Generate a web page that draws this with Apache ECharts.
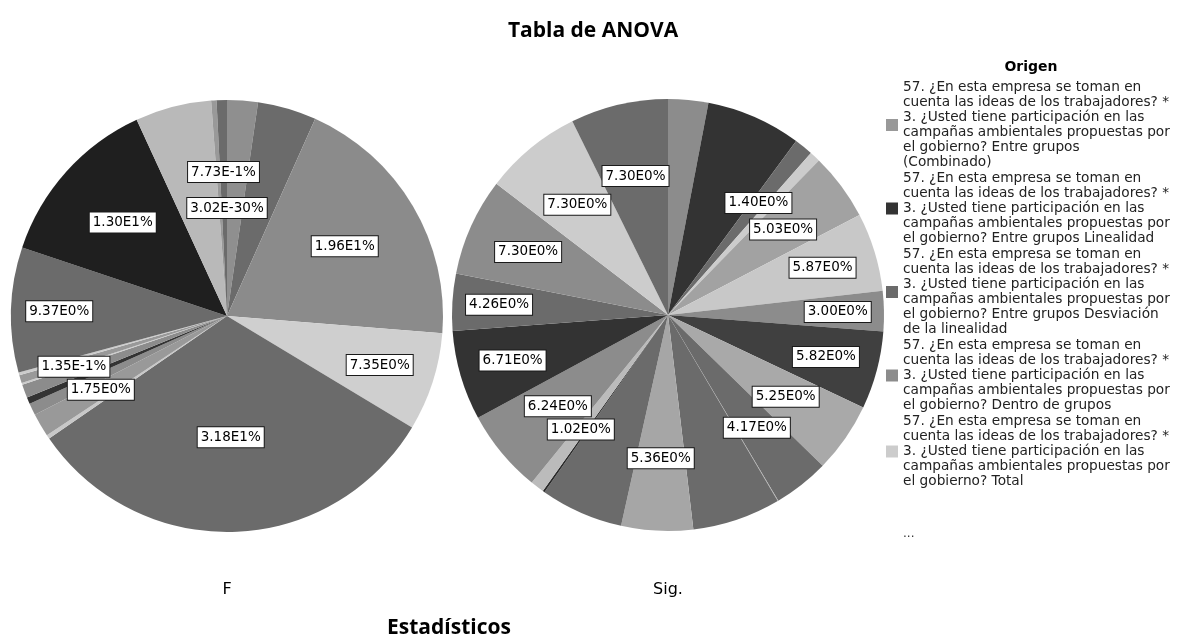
<!DOCTYPE html>
<html>
<head>
<meta charset="utf-8">
<script src="https://cdn.jsdelivr.net/npm/echarts@6/dist/echarts.min.js"></script>
<style>
html,body{margin:0;padding:0;background:#ffffff;}
#chart{width:1185px;height:637px;}
</style>
</head>
<body>
<div id="chart"></div>
<script>
// ---------- texts ----------
const chartTitle = 'Tabla de ANOVA';
const pieNames = ['F', 'Sig.'];
const footerTitle = 'Estadísticos';
const legendTitle = 'Origen';
const legendMore = '...';

// ---------- legend (Origen categories) ----------
const legendNames = [
  '57. ¿En esta empresa se toman en\ncuenta las ideas de los trabajadores? *\n3. ¿Usted tiene participación en las\ncampañas ambientales propuestas por\nel gobierno? Entre grupos\n(Combinado)',
  '57. ¿En esta empresa se toman en\ncuenta las ideas de los trabajadores? *\n3. ¿Usted tiene participación en las\ncampañas ambientales propuestas por\nel gobierno? Entre grupos Linealidad',
  '57. ¿En esta empresa se toman en\ncuenta las ideas de los trabajadores? *\n3. ¿Usted tiene participación en las\ncampañas ambientales propuestas por\nel gobierno? Entre grupos Desviación\nde la linealidad',
  '57. ¿En esta empresa se toman en\ncuenta las ideas de los trabajadores? *\n3. ¿Usted tiene participación en las\ncampañas ambientales propuestas por\nel gobierno? Dentro de grupos',
  '57. ¿En esta empresa se toman en\ncuenta las ideas de los trabajadores? *\n3. ¿Usted tiene participación en las\ncampañas ambientales propuestas por\nel gobierno? Total'
];
const legendColors = ['#999999', '#333333', '#6b6b6b', '#8c8c8c', '#cccccc'];

// ---------- F pie (percent shares, clockwise from 12 o'clock) ----------
const fValues  = [2.3, 4.4, 19.6, 7.35, 31.8, 0.3, 1.75, 0.9, 0.5, 1.0, 0.135, 0.6, 0.2, 9.37, 13.0, 5.7, 0.4, 0.773, 3.02e-30];
const fColors  = ['#8f8f8f','#6b6b6b','#8b8b8b','#cfcfcf','#6b6b6b','#c8c8c8','#999999','#8c8c8c','#333333','#8c8c8c','#cccccc','#999999','#cccccc','#6b6b6b','#1f1f1f','#b9b9b9','#999999','#6b6b6b','#8c8c8c'];
const fLabeled = [false,false,true,true,true,false,true,false,false,false,true,false,false,true,true,false,false,true,true];

// ---------- Sig. pie (percent shares, clockwise from 12 o'clock) ----------
const sigValues  = [3.0, 7.1, 1.40, 0.8, 5.03, 5.87, 3.00, 5.82, 5.25, 4.17, 0.05, 6.6, 5.36, 6.2, 0.15, 1.02, 6.24, 6.71, 4.26, 7.30, 7.30, 7.30];
const sigColors  = ['#8c8c8c','#333333','#6b6b6b','#cccccc','#a2a2a2','#c8c8c8','#8c8c8c','#404040','#a9a9a9','#6b6b6b','#b0b0b0','#6b6b6b','#a6a6a6','#6b6b6b','#2a2a2a','#bbbbbb','#8c8c8c','#333333','#6b6b6b','#8c8c8c','#cccccc','#6b6b6b'];
const sigLabeled = [false,false,true,false,true,true,true,true,true,true,false,false,true,false,false,true,true,true,true,true,true,true];

// ---------- helpers ----------
function sciLabel(v) {
  return v.toExponential(2).replace('e+', 'E').replace('e', 'E') + '%';
}

// labels sit near the centroid of each sector, nudged outward near 3/9 o'clock,
// and stacked downward when two shown labels collide
function makeLabelLayout(values, labeled, cx, cy, R) {
  const total = values.reduce((a, b) => a + b, 0);
  const mids = [], dists = [];
  let acc = 0;
  values.forEach(v => {
    const a = v / total * 2 * Math.PI;
    mids.push(acc + a / 2);
    dists.push(a < 1e-9 ? 2 * R / 3 : 4 * R * Math.sin(a / 2) / (3 * a));
    acc += a;
  });
  let placed = [];
  let lastIdx = -1;
  return function (p) {
    const i = p.dataIndex;
    if (i <= lastIdx) placed = [];
    lastIdx = i;
    const th = mids[i];
    const s = Math.abs(Math.sin(th));
    const d = dists[i] + 26 * Math.max(0, (s - 0.85) / 0.15);
    let x = cx + d * Math.sin(th);
    let y = cy - d * Math.cos(th);
    if (labeled[i]) {
      const w = p.labelRect.width, h = p.labelRect.height;
      for (let k = 0; k < 10; k++) {
        const hit = placed.find(r => Math.abs(r.x - x) < (r.w + w) / 2 && Math.abs(r.y - y) < (r.h + h) / 2);
        if (!hit) break;
        y = hit.y + (hit.h + h) / 2 + 14;
      }
      placed.push({x, y, w, h});
    }
    return {x: x, y: y, align: 'center', verticalAlign: 'middle'};
  };
}

const R = 216;
const fCenter = [227, 316];
const sigCenter = [668, 315];

const labelBox = {
  position: 'inside',
  formatter: p => sciLabel(p.value),
  fontFamily: 'DejaVu Sans',
  fontSize: 13.5,
  lineHeight: 15,
  color: '#000000',
  backgroundColor: '#ffffff',
  borderColor: '#1a1a1a',
  borderWidth: 1,
  padding: [3, 3, 2, 3]
};

function pieSeries(name, values, colors, labeled, center) {
  return {
    type: 'pie',
    name: name,
    center: center,
    radius: R,
    startAngle: 90,
    clockwise: true,
    silent: true,
    animation: false,
    avoidLabelOverlap: false,
    itemStyle: {borderWidth: 0},
    label: labelBox,
    labelLine: {show: false},
    emphasis: {disabled: true},
    labelLayout: makeLabelLayout(values, labeled, center[0], center[1], R),
    data: values.map((v, i) => ({
      name: name + '-' + (i + 1),
      value: v,
      itemStyle: {color: colors[i]},
      label: {show: labeled[i]}
    }))
  };
}

const chart = echarts.init(document.getElementById('chart'), null, {renderer: 'canvas'});
chart.setOption({
  backgroundColor: '#ffffff',
  animation: false,
  title: [
    {text: chartTitle, left: 593, top: 21, textAlign: 'center', padding: 0,
     textStyle: {fontFamily: 'Open Sans', fontWeight: 'bold', fontSize: 21, color: '#000'}},
    {text: pieNames[0], left: fCenter[0], top: 582, textAlign: 'center', padding: 0,
     textStyle: {fontFamily: 'DejaVu Sans', fontWeight: 'normal', fontSize: 16, color: '#000'}},
    {text: pieNames[1], left: sigCenter[0], top: 582, textAlign: 'center', padding: 0,
     textStyle: {fontFamily: 'DejaVu Sans', fontWeight: 'normal', fontSize: 16, color: '#000'}},
    {text: footerTitle, left: 449, top: 618, textAlign: 'center', padding: 0,
     textStyle: {fontFamily: 'Open Sans', fontWeight: 'bold', fontSize: 21, color: '#000'}},
    {text: legendTitle, left: 1031, top: 60, textAlign: 'center', padding: 0,
     textStyle: {fontFamily: 'DejaVu Sans', fontWeight: 'bold', fontSize: 14, color: '#000'}},
    {text: legendMore, left: 903, top: 528, padding: 0,
     textStyle: {fontFamily: 'DejaVu Sans', fontWeight: 'normal', fontSize: 12, color: '#333'}}
  ],
  legend: {
    orient: 'vertical',
    left: 886,
    top: 80,
    padding: 0,
    itemWidth: 12,
    itemHeight: 12,
    itemGap: 1,
    icon: 'rect',
    selectedMode: false,
    data: legendNames,
    textStyle: {fontFamily: 'DejaVu Sans', fontSize: 13.7, lineHeight: 15, color: '#222'}
  },
  series: [
    pieSeries('F', fValues, fColors, fLabeled, fCenter),
    pieSeries('Sig', sigValues, sigColors, sigLabeled, sigCenter),
    {
      type: 'pie', name: 'Origen', center: [-50, -50], radius: 1, silent: true,
      label: {show: false}, labelLine: {show: false}, animation: false,
      data: legendNames.map((n, i) => ({name: n, value: 1, itemStyle: {color: legendColors[i]}}))
    }
  ]
});
</script>
</body>
</html>
